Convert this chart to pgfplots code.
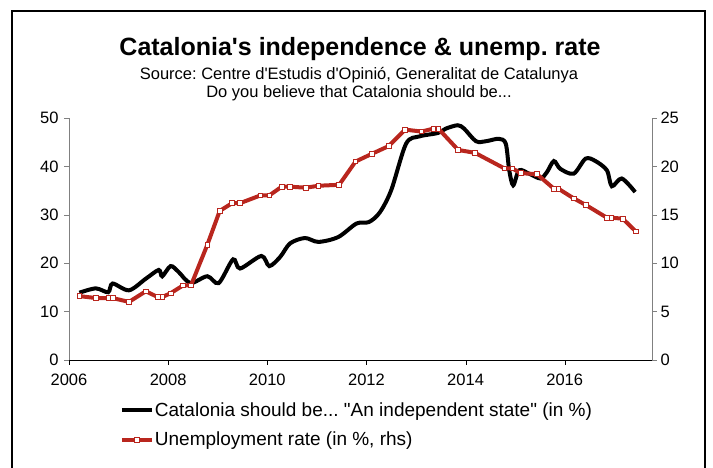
\documentclass[border=0pt]{standalone}
\usepackage{fontspec}
\setmainfont{Liberation Sans}
\usepackage{pgfplots}
\pgfplotsset{compat=1.18}
\definecolor{unemp}{RGB}{185,38,30}
\definecolor{axgray}{RGB}{128,128,128}
\frenchspacing

\pgfplotsset{
  common/.style={
    at={(69pt,108pt)}, anchor=south west, scale only axis,
    width=583pt, height=242pt,
    xmin=2006, xmax=2017.76,
    tick align=outside, major tick length=5pt,
    ticklabel style={font=\fontsize{16.5}{19}\selectfont},
    /pgf/number format/assume math mode=true,
    /pgf/number format/1000 sep={},
  },
}

\begin{document}
\begin{tikzpicture}[x=1pt,y=1pt]
\useasboundingbox (0,0) rectangle (713,468);
\draw[line width=2pt] (12,457) rectangle (705,-20);
\node[font=\fontsize{25}{30}\selectfont\bfseries] at (360,418.5) {Catalonia\textquotesingle s independence \& unemp. rate};
\node[font=\fontsize{16.5}{19}\selectfont] at (359,393) {Source: Centre d\textquotesingle Estudis d\textquotesingle Opinió, Generalitat de Catalunya};
\node[font=\fontsize{16.5}{19}\selectfont] at (359,375) {Do you believe that Catalonia should be...};

% independence support, left axis
\begin{axis}[common,
  ymin=0, ymax=50, ytick={0,10,...,50},
  xtick={2006,2008,...,2016},
  axis x line*=bottom, axis y line*=left,
  x axis line style={black,-}, y axis line style={axgray,-},
  x tick style={black}, y tick style={axgray},
  xticklabel style={yshift=-5pt},
  yticklabel style={xshift=-2pt},
]
\addplot[black, line width=4pt, smooth, tension=0.5] coordinates {
(2006.21,13.9) (2006.54,14.8) (2006.79,14.0) (2006.88,15.8) (2007.21,14.4)
(2007.55,16.8) (2007.81,18.6) (2007.88,17.3) (2008.05,19.4) (2008.21,18.2)
(2008.45,15.9) (2008.79,17.3) (2009.02,15.9) (2009.31,20.8) (2009.45,18.9)
(2009.88,21.5) (2010.04,19.4) (2010.26,21.3) (2010.46,24.1) (2010.76,25.2)
(2011.03,24.4) (2011.43,25.4) (2011.80,28.2) (2012.05,28.5) (2012.27,30.5)
(2012.50,35.1) (2012.80,44.7) (2013.07,46.2) (2013.44,46.9) (2013.60,47.8)
(2013.84,48.5) (2013.97,47.8) (2014.21,45.2) (2014.41,45.2) (2014.67,45.7)
(2014.81,44.7) (2014.88,39.2) (2014.96,36.1) (2015.08,39.2) (2015.28,38.5)
(2015.51,37.5) (2015.64,38.8) (2015.78,41.1) (2015.91,39.5) (2016.18,38.5)
(2016.42,41.6) (2016.62,41.1) (2016.85,39.2) (2016.95,35.9) (2017.15,37.5)
(2017.42,34.7)
};
\end{axis}

% unemployment rate, right axis
\begin{axis}[common,
  ymin=0, ymax=25, ytick={0,5,...,25},
  axis y line*=right, axis x line=none,
  y axis line style={axgray,-}, y tick style={axgray},
  legend style={at={(0.087,-0.172)}, anchor=north west, draw=none, fill=none,
    font=\fontsize{19}{22}\selectfont, cells={anchor=west}, row sep=12pt,
    inner sep=0pt, nodes={inner sep=1pt}},
  legend image code/.code={\draw[#1, mark repeat=2, mark phase=2]
    plot coordinates {(0pt,0pt) (15pt,0pt) (30pt,0pt)};},
]
\addlegendimage{black, line width=4pt}
\addlegendentry{Catalonia should be... \textquotedbl An independent state\textquotedbl{} (in \%)}
\addplot[unemp, line width=4pt, mark=square*, mark size=2.3pt,
  mark options={fill=white, draw=unemp, line width=0.8pt}] coordinates {
(2006.21,6.6) (2006.54,6.4) (2006.80,6.4) (2006.88,6.4) (2007.21,6.0)
(2007.55,7.1) (2007.79,6.5) (2007.88,6.5) (2008.05,6.9) (2008.30,7.7)
(2008.46,7.7) (2008.79,11.9) (2009.04,15.4) (2009.29,16.2) (2009.45,16.2)
(2009.86,17.0) (2010.04,17.0) (2010.29,17.9) (2010.46,17.9) (2010.78,17.8)
(2011.03,18.0) (2011.45,18.1) (2011.78,20.5) (2012.11,21.3) (2012.45,22.1)
(2012.78,23.8) (2013.11,23.6) (2013.35,23.9) (2013.45,23.9) (2013.85,21.7)
(2014.19,21.4) (2014.78,19.8) (2014.94,19.8) (2015.11,19.3) (2015.44,19.2)
(2015.78,17.7) (2015.87,17.7) (2016.18,16.7) (2016.43,16.0) (2016.85,14.7)
(2016.94,14.7) (2017.17,14.6) (2017.43,13.3)
};
\addlegendentry{Unemployment rate (in \%, rhs)}
\end{axis}
\end{tikzpicture}
\end{document}
